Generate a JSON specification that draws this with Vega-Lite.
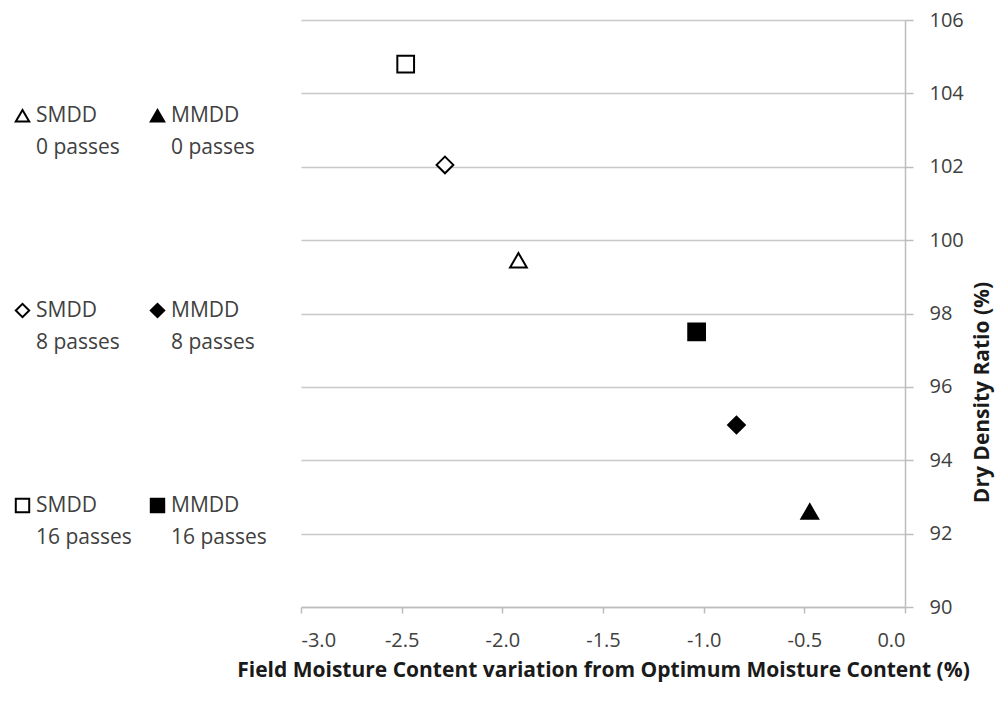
{
  "$schema": "https://vega.github.io/schema/vega-lite/v6.json",
  "width": 604,
  "height": 587,
  "autosize": {"type": "none"},
  "padding": {"left": 301, "top": 20, "right": 100, "bottom": 97},
  "background": "white",
  "data": {
    "values": [
      {"series": "SMDD|0 passes", "x": -1.92, "y": 99.45},
      {"series": "MMDD|0 passes", "x": -0.473, "y": 92.6},
      {"series": "SMDD|8 passes", "x": -2.285, "y": 102.05},
      {"series": "MMDD|8 passes", "x": -0.837, "y": 94.96},
      {"series": "SMDD|16 passes", "x": -2.48, "y": 104.8},
      {"series": "MMDD|16 passes", "x": -1.035, "y": 97.5}
    ]
  },
  "mark": {"type": "point", "filled": true, "stroke": "black", "strokeWidth": 2, "size": 280, "opacity": 1},
  "encoding": {
    "x": {
      "field": "x",
      "type": "quantitative",
      "scale": {"domain": [-3, 0], "nice": false, "zero": false},
      "axis": {
        "values": [-3, -2.5, -2, -1.5, -1, -0.5, 0],
        "labelExpr": "datum.value < 0 ? '-' + format(-datum.value, '.1f') : format(datum.value, '.1f')",
        "grid": false,
        "tickSize": 6,
        "labelPadding": 17,
        "title": "Field Moisture Content variation from Optimum Moisture Content (%)",
        "titlePadding": 9
      }
    },
    "y": {
      "field": "y",
      "type": "quantitative",
      "scale": {"domain": [90, 106], "nice": false, "zero": false},
      "axis": {
        "orient": "right",
        "values": [90, 92, 94, 96, 98, 100, 102, 104, 106],
        "grid": true,
        "tickSize": 8,
        "labelPadding": 16,
        "title": "Dry Density Ratio (%)",
        "titleAngle": 270,
        "titleX": 87,
        "titleY": 372
      }
    },
    "shape": {
      "field": "series",
      "type": "nominal",
      "scale": {
        "domain": ["SMDD|0 passes", "MMDD|0 passes", "SMDD|8 passes", "MMDD|8 passes", "SMDD|16 passes", "MMDD|16 passes"],
        "range": ["triangle-up", "triangle-up", "diamond", "diamond", "square", "square"]
      },
      "legend": {
        "labelExpr": "split(datum.label, '|')",
        "title": null,
        "direction": "horizontal",
        "encode": {
          "symbols": {"update": {"stroke": {"value": "black"}, "strokeWidth": {"value": 2}}},
          "labels": {"update": {"lineHeight": {"value": 32}}}
        }
      }
    },
    "fill": {
      "field": "series",
      "type": "nominal",
      "scale": {
        "domain": ["SMDD|0 passes", "MMDD|0 passes", "SMDD|8 passes", "MMDD|8 passes", "SMDD|16 passes", "MMDD|16 passes"],
        "range": ["white", "black", "white", "black", "white", "black"]
      },
      "legend": {
        "labelExpr": "split(datum.label, '|')",
        "title": null,
        "direction": "horizontal",
        "encode": {
          "symbols": {"update": {"stroke": {"value": "black"}, "strokeWidth": {"value": 2}}},
          "labels": {"update": {"lineHeight": {"value": 32}}}
        }
      }
    }
  },
  "config": {
    "view": {"stroke": null},
    "font": "Open Sans",
    "axis": {
      "labelFont": "Open Sans",
      "labelFontSize": 20,
      "labelColor": "#404040",
      "titleFont": "Open Sans",
      "titleFontSize": 21,
      "titleFontWeight": "bold",
      "titleColor": "#1a1a1a",
      "domainColor": "#bdbdbd",
      "tickColor": "#bdbdbd",
      "gridColor": "#c8c8c8",
      "domainWidth": 1.5,
      "tickWidth": 1.5,
      "gridWidth": 1.5
    },
    "legend": {
      "orient": "none",
      "legendX": -289,
      "legendY": 85,
      "columns": 2,
      "symbolSize": 180,
      "symbolStrokeWidth": 2,
      "symbolStrokeColor": "black",
      "symbolOpacity": 1,
      "labelFont": "Open Sans",
      "labelFontSize": 21,
      "labelColor": "#404040",
      "labelLimit": 0,
      "labelBaseline": "middle",
      "labelOffset": 3,
      "columnPadding": 14,
      "rowPadding": 141,
      "padding": 0
    }
  }
}
